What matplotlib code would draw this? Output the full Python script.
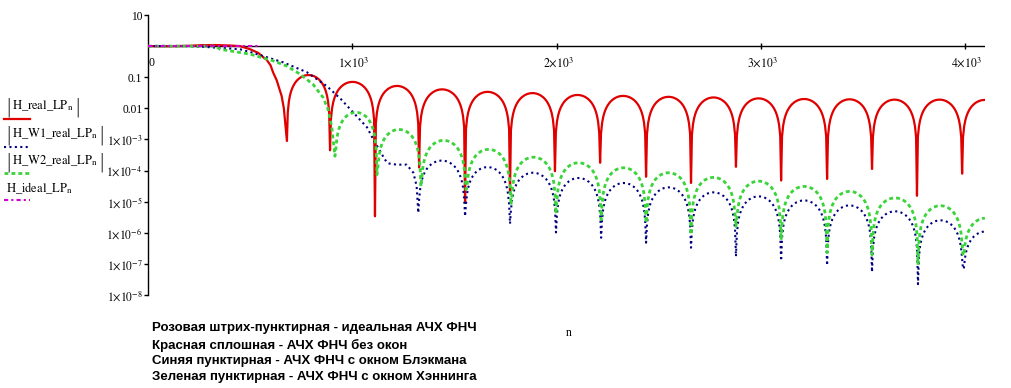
import numpy as np
import matplotlib
matplotlib.use("Agg")
import matplotlib.pyplot as plt
from matplotlib.lines import Line2D

# ---------------- data ----------------
N_MAX = 4097

# ideal low-pass (pink dash-dot)
IDEAL_N = [0, 540]
IDEAL_V = [1.0, 1.0]

# red: no window  (main lobe points, then sidelobes: nulls, null depths, peaks; exponents = log10)
RED_MAIN_N = [0, 100, 200, 260, 330, 400, 450, 500, 540, 563, 581, 600, 612, 630, 654, 665, 672, 680]
RED_MAIN_E = [0, -0.004, 0.009, 0.03, 0.034, 0.02, 0.0, -0.10, -0.22, -0.35, -0.44, -0.62, -0.84,
              -1.10, -1.60, -2.0, -2.5, -3.05]
RED_NULLS = [680, 891, 1111, 1327, 1552, 1772, 1992, 2213, 2438, 2658, 2878, 3099, 3324, 3544, 3764, 3985]
RED_NULL_E = [-3.05, -3.35, -5.47, -3.90, -5.03, -4.71, -4.02, -3.75, -4.20, -4.40, -3.88, -4.32,
              -4.27, -3.95, -4.81, -4.10]
RED_PEAK_E = [-0.93, -1.15, -1.28, -1.39, -1.47, -1.51, -1.57, -1.60, -1.63, -1.65, -1.68, -1.70,
              -1.71, -1.72, -1.72, -1.73]

# blue: Blackman window
BLUE_MAIN_N = [0, 200, 289, 450, 500, 661, 778, 876, 945, 1023, 1072, 1103, 1136, 1160, 1176, 1217,
               1266, 1299, 1315, 1323]
BLUE_MAIN_E = [0, 0, -0.03, -0.10, -0.19, -0.52, -0.84, -1.29, -1.71, -2.26, -2.61, -3.0, -3.38,
               -3.65, -3.77, -3.81, -3.81, -4.07, -4.50, -5.36]
BLUE_NULLS = [1323, 1552, 1772, 1997, 2218, 2438, 2658, 2878, 3099, 3324, 3544, 3769, 3989]
BLUE_NULL_E = [-5.36, -5.47, -5.71, -5.99, -6.16, -6.32, -6.48, -6.76, -6.90, -7.05, -7.26, -7.65, -7.13]
BLUE_PEAK_E = [-3.68, -3.89, -4.07, -4.24, -4.40, -4.54, -4.70, -4.83, -4.96, -5.12, -5.31, -5.60, -5.96]

# green: Hanning window
GREEN_MAIN_N = [0, 330, 352, 500, 612, 679, 744, 808, 857, 881, 899, 915]
GREEN_MAIN_E = [0, 0, -0.10, -0.26, -0.47, -0.64, -0.90, -1.23, -1.65, -2.03, -2.57, -3.54]
GREEN_NULLS = [915, 1121, 1336, 1557, 1777, 1997, 2218, 2438, 2658, 2878, 3099, 3324, 3544, 3769, 3989]
GREEN_NULL_E = [-3.54, -4.13, -4.51, -4.61, -5.10, -5.39, -5.58, -5.68, -6.06, -5.80, -6.23, -6.64,
                -6.71, -7.03, -6.69]
GREEN_PEAK_E = [-2.13, -2.68, -3.03, -3.32, -3.57, -3.75, -3.91, -4.07, -4.22, -4.34, -4.51, -4.67,
                -4.88, -5.13, -5.53]

X_TICKS = [1000, 2000, 3000, 4000]
X_TICK_LABELS = [r"$1{\times}10^{3}$", r"$2{\times}10^{3}$", r"$3{\times}10^{3}$", r"$4{\times}10^{3}$"]
Y_TICKS = [10, 0.1, 0.01, 1e-3, 1e-4, 1e-5, 1e-6, 1e-7, 1e-8]
Y_TICK_LABELS = ["10", "0.1", "0.01", r"$1{\times}10^{-3}$", r"$1{\times}10^{-4}$", r"$1{\times}10^{-5}$",
                 r"$1{\times}10^{-6}$", r"$1{\times}10^{-7}$", r"$1{\times}10^{-8}$"]

LEGEND_LABELS = [r"$\mathrm{H\_real\_LP}_{\mathrm{n}}$",
                 r"$\mathrm{H\_W1\_real\_LP}_{\mathrm{n}}$",
                 r"$\mathrm{H\_W2\_real\_LP}_{\mathrm{n}}$",
                 r"$\mathrm{H\_ideal\_LP}_{\mathrm{n}}$"]
LEGEND_ABS = [True, True, True, False]
NOTES = ["Розовая штрих-пунктирная - идеальная АЧХ ФНЧ",
         "Красная сплошная - АЧХ ФНЧ без окон",
         "Синяя пунктирная - АЧХ ФНЧ с окном Блэкмана",
         "Зеленая пунктирная - АЧХ ФНЧ с окном Хэннинга"]

# ---------------- styles ----------------
RED = "#e00000"
BLUE = "#000080"
GREEN = "#3ad43a"
PINK = "#d000d0"
ST_RED = dict(color=RED, lw=1.6, ls="-")
ST_BLUE = dict(color=BLUE, lw=1.5, ls=(0, (1, 1.6)))
ST_GREEN = dict(color=GREEN, lw=2.0, ls=(0, (1.4, 1.1)))
ST_PINK = dict(color=PINK, lw=1.5, ls=(0, (2, 1.5, 1, 1.5)))


def trace(main_n, main_e, nulls, null_e, peak_e):
    """Main lobe points followed by side lobes arching between the read nulls and peaks."""
    n = list(main_n)
    e = list(main_e)
    t = np.linspace(0.02, 0.98, 40)
    arch = np.log10(np.sin(np.pi * t))
    for i, pk in enumerate(peak_e):
        a = nulls[i]
        b = nulls[i + 1] if i + 1 < len(nulls) else 2 * a - nulls[i - 1]
        if i > 0:
            n.append(a)
            e.append(null_e[i])
        n.extend(a + t * (b - a))
        e.extend(pk + arch)
    n = np.array(n, dtype=float)
    v = 10.0 ** np.array(e, dtype=float)
    keep = n <= N_MAX
    return n[keep], v[keep]


W, H = 1011, 388
plt.rcParams["mathtext.fontset"] = "stix"
plt.rcParams["font.family"] = ["Liberation Serif", "DejaVu Serif"]
fig = plt.figure(figsize=(W / 100, H / 100), dpi=100)
fig.patch.set_facecolor("white")

L, R, T, B = 148, 985, 15, 295
ax = fig.add_axes([L / W, 1 - B / H, (R - L) / W, (B - T) / H])
ax.set_yscale("log")
ax.set_xlim(0, N_MAX)
ax.set_ylim(1e-8, 10)
for s in ("top", "right", "bottom"):
    ax.spines[s].set_visible(False)
ax.spines["left"].set_linewidth(1.0)

rn, rv = trace(RED_MAIN_N, RED_MAIN_E, RED_NULLS, RED_NULL_E, RED_PEAK_E)
bn, bv = trace(BLUE_MAIN_N, BLUE_MAIN_E, BLUE_NULLS, BLUE_NULL_E, BLUE_PEAK_E)
gn, gv = trace(GREEN_MAIN_N, GREEN_MAIN_E, GREEN_NULLS, GREEN_NULL_E, GREEN_PEAK_E)

ax.axhline(1.0, color="black", lw=1.0, zorder=1)
ax.plot(rn, rv, zorder=3, **ST_RED)
ax.plot(bn, bv, zorder=4, **ST_BLUE)
ax.plot(gn, gv, zorder=5, **ST_GREEN)
ax.plot(IDEAL_N, IDEAL_V, zorder=6, **ST_PINK)

# x axis drawn through y = 1
ax.set_xticks([])
ax.plot(X_TICKS, [1.0] * len(X_TICKS), ls="none", marker="|", ms=5, mew=1, color="black", zorder=2)
for xt, lab in zip(X_TICKS, X_TICK_LABELS):
    ax.annotate(lab, xy=(xt, 1.0), xytext=(1, -12), textcoords="offset points",
                ha="center", va="center", fontsize=8.5)
ax.annotate("0", xy=(0, 1.0), xytext=(2.5, -12), textcoords="offset points",
            ha="center", va="center", fontsize=8.5)

ax.set_yticks(Y_TICKS)
ax.set_yticklabels(Y_TICK_LABELS)
ax.yaxis.set_minor_locator(matplotlib.ticker.NullLocator())
ax.tick_params(axis="y", direction="out", length=3, width=1, pad=1, labelsize=8.3)

# legend on the left
renderer = fig.canvas.get_renderer()
leg_text_y = [106, 134, 161, 188]
leg_line_y = [119, 147, 173, 200]
for lab, is_abs, ty, ly, st in zip(LEGEND_LABELS, LEGEND_ABS, leg_text_y, leg_line_y,
                                   [ST_RED, ST_BLUE, ST_GREEN, ST_PINK]):
    x0 = 12 if is_abs else 6
    t = fig.text(x0 / W, 1 - ty / H, lab, ha="left", va="center", fontsize=9)
    if is_abs:
        bb = t.get_window_extent(renderer)
        for xb, ha in ((bb.x0 - 1, "right"), (bb.x1 + 1, "left")):
            fig.text(xb / W, 1 - (ty + 1) / H, "|", ha=ha, va="center", fontsize=13.5,
                     family=["DejaVu Sans"], fontweight="light")
    fig.add_artist(Line2D([4 / W, 30 / W], [1 - ly / H, 1 - ly / H], transform=fig.transFigure, **st))

# notes under the chart
for txt, yy in zip(NOTES, [328, 345, 361, 377]):
    fig.text(152 / W, 1 - yy / H, txt, ha="left", va="center", fontsize=9.5,
             family=["Liberation Sans", "DejaVu Sans"], weight="bold")
fig.text(569 / W, 1 - 333 / H, "n", ha="center", va="center", fontsize=8.5)

fig.savefig("out.png", dpi=100, facecolor="white")
